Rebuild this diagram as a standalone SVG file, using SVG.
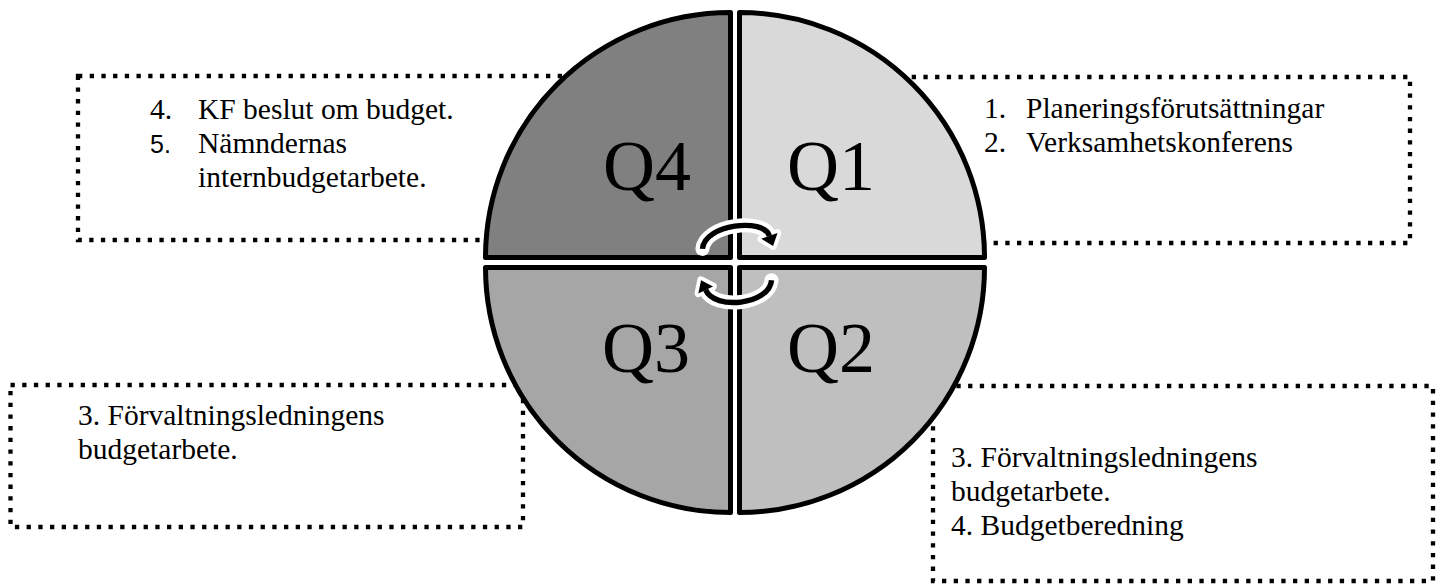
<svg xmlns="http://www.w3.org/2000/svg" width="1450" height="585" viewBox="0 0 1450 585">
<style>
.box{fill:none;stroke:#000;stroke-width:4.3;stroke-dasharray:4.3 7.4}
.q{stroke:#000;stroke-width:5;stroke-linejoin:round}
.ql{font-family:"Liberation Serif","Times New Roman",serif;font-size:72px;fill:#000}
.t{font-family:"Liberation Serif","Times New Roman",serif;font-size:29.5px;fill:#000}
.s{font-family:"Liberation Sans",Arial,sans-serif;font-size:25px;fill:#000}
.aw{fill:none;stroke:#fff;stroke-width:13;stroke-linecap:round}
.ab{fill:none;stroke:#000;stroke-width:5}
.hw{fill:#000;stroke:#fff;stroke-width:7;stroke-linejoin:round}
</style>
<rect width="1450" height="585" fill="#fff"/>
<g id="box-q4">
<rect class="box" x="78" y="76" width="540" height="164"/>
<text class="t" x="150" y="119">4.</text>
<text class="t" x="198" y="119">KF beslut om budget.</text>
<text class="s" x="150" y="153">5.</text>
<text class="t" x="198" y="153">Nämndernas</text>
<text class="t" x="198" y="187">internbudgetarbete.</text>
</g>
<g id="box-q1">
<rect class="box" x="900" y="77" width="510" height="166"/>
<text class="t" x="984" y="118">1.</text>
<text class="t" x="1026" y="118">Planeringsförutsättningar</text>
<text class="t" x="984" y="152">2.</text>
<text class="t" x="1026" y="152">Verksamhetskonferens</text>
</g>
<g id="box-q3">
<rect class="box" x="10.5" y="385" width="512.5" height="142"/>
<text class="t" x="78" y="425">3. Förvaltningsledningens</text>
<text class="t" x="78" y="459">budgetarbete.</text>
</g>
<g id="box-q2">
<rect class="box" x="933" y="386" width="500" height="195"/>
<text class="t" x="951" y="467">3. Förvaltningsledningens</text>
<text class="t" x="951" y="501">budgetarbete.</text>
<text class="t" x="951" y="535">4. Budgetberedning</text>
</g>
<g id="q4">
<path class="q" fill="#808080" d="M730.5 257.5V12.5A245 245 0 0 0 485.5 257.5Z"/>
<text class="ql" x="603" y="190">Q4</text>
</g>
<g id="q1">
<path class="q" fill="#d9d9d9" d="M739.5 257.5V12.5A245 245 0 0 1 984.5 257.5Z"/>
<text class="ql" x="787" y="190">Q1</text>
</g>
<g id="q3">
<path class="q" fill="#a6a6a6" d="M730.5 267.5V512.5A245 245 0 0 1 485.5 267.5Z"/>
<text class="ql" x="602" y="372">Q3</text>
</g>
<g id="q2">
<path class="q" fill="#bfbfbf" d="M739.5 267.5V512.5A245 245 0 0 0 984.5 267.5Z"/>
<text class="ql" x="787" y="372">Q2</text>
</g>
<g id="connectors" transform="translate(737 264) scale(1.08) translate(-737 -264)">
<path class="aw" d="M705 250C707 227 762 221 767 238"/>
<polygon class="hw" points="759.5,240.7 774.5,235.3 770.4,247.4"/>
<path class="ab" d="M705 250C707 227 762 221 767 238"/>
<polygon fill="#000" points="759.5,240.7 774.5,235.3 770.4,247.4"/>
<path class="aw" d="M769 279C767 302 716 307 708 288"/>
<polygon class="hw" points="714.8,284.8 701.2,291.2 703.7,279"/>
<path class="ab" d="M769 279C767 302 716 307 708 288"/>
<polygon fill="#000" points="714.8,284.8 701.2,291.2 703.7,279"/>
</g>
</svg>
